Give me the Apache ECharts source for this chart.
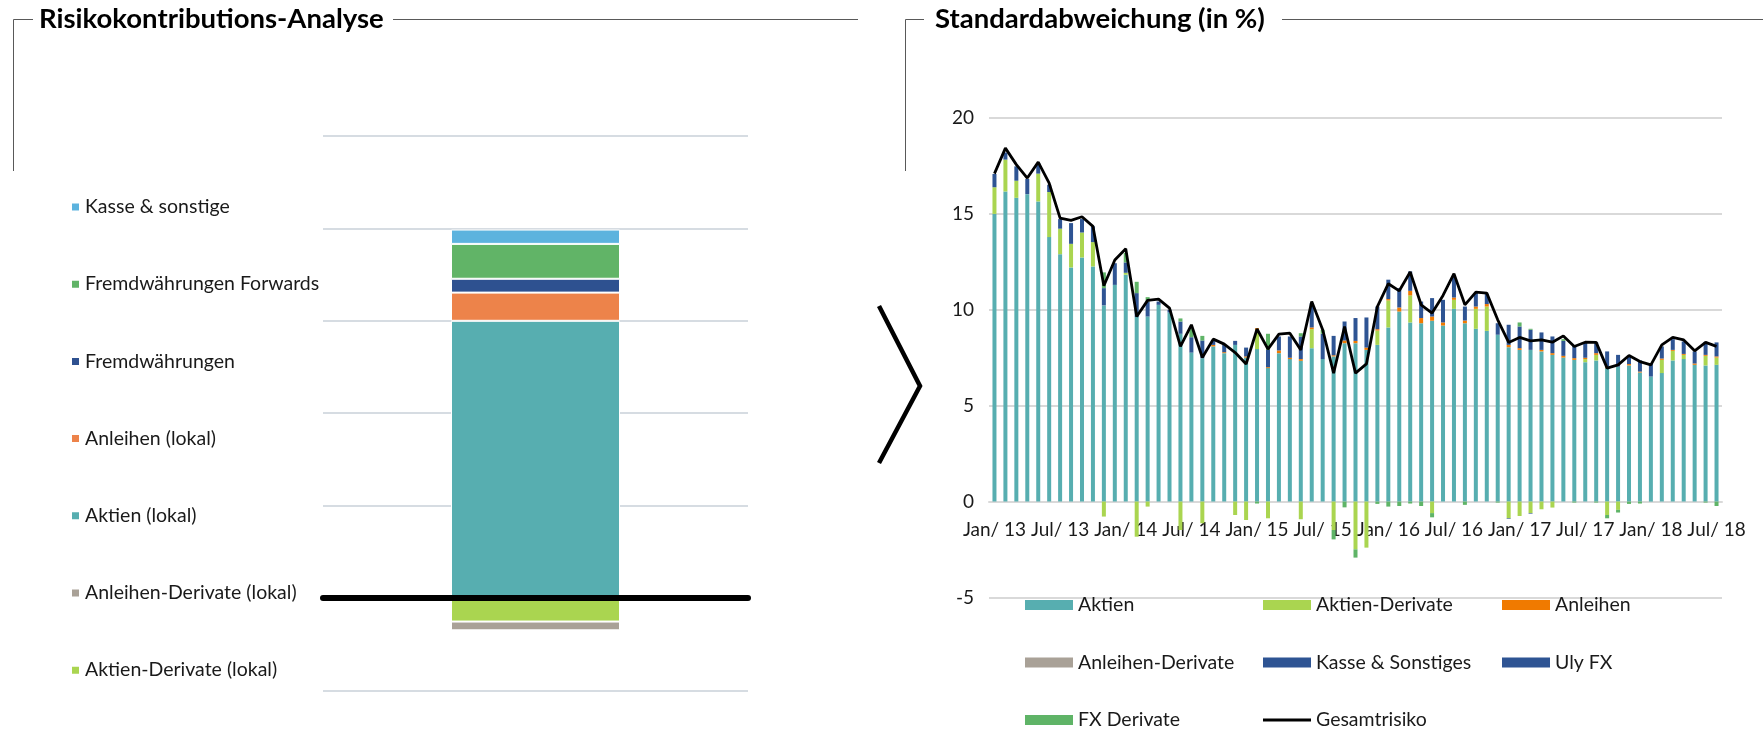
<!DOCTYPE html>
<html><head><meta charset="utf-8">
<script src="https://cdn.jsdelivr.net/npm/echarts@6/dist/echarts.min.js"></script>
<style>html,body{margin:0;padding:0;background:#fff}#c{width:1763px;height:731px}</style>
</head><body><div id="c"></div>
<script>
// ---------- Left chart: Risikokontributions-Analyse ----------
const riskCategories = ['Risiko'];
const aktienDerivateLokal = [-0.51];
const anleihenDerivateLokal = [-0.19];
const aktienLokal = [6.0];
const anleihenLokal = [0.61];
const fremdwaehrungen = [0.30];
const fremdwaehrungenForwards = [0.755];
const kasseSonstige = [0.31];
const leftLegendOrder = ['Kasse & sonstige','Fremdwährungen Forwards','Fremdwährungen','Anleihen (lokal)','Aktien (lokal)','Anleihen-Derivate (lokal)','Aktien-Derivate (lokal)'];

// ---------- Right chart: Standardabweichung (in %) ----------
const months = [
'Jan/ 13','Feb/ 13','Mär/ 13','Apr/ 13','Mai/ 13','Jun/ 13','Jul/ 13','Aug/ 13','Sep/ 13','Okt/ 13','Nov/ 13','Dez/ 13',
'Jan/ 14','Feb/ 14','Mär/ 14','Apr/ 14','Mai/ 14','Jun/ 14','Jul/ 14','Aug/ 14','Sep/ 14','Okt/ 14','Nov/ 14','Dez/ 14',
'Jan/ 15','Feb/ 15','Mär/ 15','Apr/ 15','Mai/ 15','Jun/ 15','Jul/ 15','Aug/ 15','Sep/ 15','Okt/ 15','Nov/ 15','Dez/ 15',
'Jan/ 16','Feb/ 16','Mär/ 16','Apr/ 16','Mai/ 16','Jun/ 16','Jul/ 16','Aug/ 16','Sep/ 16','Okt/ 16','Nov/ 16','Dez/ 16',
'Jan/ 17','Feb/ 17','Mär/ 17','Apr/ 17','Mai/ 17','Jun/ 17','Jul/ 17','Aug/ 17','Sep/ 17','Okt/ 17','Nov/ 17','Dez/ 17',
'Jan/ 18','Feb/ 18','Mär/ 18','Apr/ 18','Mai/ 18','Jun/ 18','Jul/ 18'];
const aktien = [15.0,16.17,15.84,16.03,15.65,13.79,12.9,12.21,12.73,12.26,
10.23,11.3,11.83,9.62,9.65,10.26,9.86,8.75,7.77,7.48,
8.09,7.74,8.17,7.51,7.95,6.96,7.74,7.43,7.34,8.0,
7.43,7.57,8.26,8.26,7.91,8.17,9.08,9.91,9.34,9.3,
9.43,9.18,10.05,9.3,9.01,8.9,8.7,8.05,7.91,7.91,
7.83,7.65,7.51,7.39,7.27,7.36,6.96,7.04,7.1,6.73,
6.52,6.7,7.36,7.43,7.13,7.1,7.13];
const aktienDerivate = [1.39,1.66,0.89,0,1.45,2.35,1.33,1.23,1.3,1.27,
-0.78,0,0.1,-1.83,-0.26,0,0,-1.48,0,-1.13,
0,0,-0.7,-0.96,1.01,-0.87,0,0,-0.92,0.99,
0,-1.48,0,-2.49,-2.4,0.75,1.41,0,1.41,0,
-0.6,0,0.47,0,1.04,1.27,0,-0.87,-0.75,-0.6,
-0.4,-0.31,0,0,0.16,0.29,-0.7,-0.43,0,0,
0,0.69,0.5,0.22,0,0.5,0.38];
const anleihen = [0,0,0,0,0,0,0,0,0,0,
0,0,0,0,0,0,0,0,0,0,
0.08,0.05,0,0.06,0.08,0.05,0.14,0.07,0.09,0.09,
0,0.06,0.14,0.12,0.12,0.07,0.07,0.21,0.24,0.27,
0.22,0.16,0.12,0.14,0.12,0.13,0,0.12,0.09,0,
0.08,0.09,0.09,0.09,0.07,0.09,0.08,0,0.07,0.05,
0,0.07,0.05,0.05,0.07,0.05,0.06];
const anleihenDerivate = [0,0,0,0,0,0,0,0,0,0,
0,0,0,0,0,0,0,0,0,0,
0,0,0,0,0,0,0,0,0,0,
0,0,0,0,0,0,0,0,0,0,
0,0,0,0,0,0,0,0,0,0,
0,0,0,0,0,0,0,0,0,0,
0,0,0,0,0,0,0];
const kasseSonstiges = [0,0,0,0,0,0,0,0,0,0,
0,0,0,0,0,0,0,0,0,0,
0,0,0,0,0,0,0,0,0,0,
0,0,0,0,0,0,0,0,0,0,
0,0,0,0,0,0,0,-0.03,0,-0.03,
0,0,0,0,0,0,0,0,0,0,
0,0,0,0,0,0,0];
const ulyFx = [0.69,0.37,0.75,0.79,0.55,0.38,0.5,1.08,0.7,0.82,
0.9,1.13,0.54,1.25,0.78,0.17,0.14,0.64,0.8,0.92,
0.2,0.38,0.21,0.46,0,0.9,0.73,1.11,1.18,1.27,
1.32,1.01,0.99,1.19,1.57,1.18,1.01,1.01,1.01,0.86,
0.96,1.18,1.1,0.73,0.7,0.53,0.6,1.05,1.13,1.05,
0.91,0.87,0.78,0.64,0.8,0.56,0.79,0.61,0.43,0.58,
0.7,0.63,0.56,0.65,0.63,0.68,0.73];
const fxDerivate = [0,0,0,0,0,0,0,0,0,0,
0.82,0,0.49,0.59,0.23,0,0,0.16,0.42,0.24,
0,0,0,0,-0.1,0.84,0,0,0.17,0,
0.21,-0.49,-0.3,-0.43,0,-0.12,-0.26,-0.23,-0.1,-0.23,
-0.22,0,0,-0.17,0,0,-0.05,0,0.21,0.05,
0,0,0.09,-0.05,0,-0.05,-0.17,-0.14,-0.12,-0.1,
0,0,0,0,0,-0.05,-0.23];
const gesamtrisiko = [17.1,18.43,17.57,16.87,17.7,16.6,14.78,14.66,14.85,14.35,
11.25,12.6,13.18,9.65,10.49,10.56,10.09,8.09,9.22,7.51,
8.47,8.21,7.77,7.17,9.0,7.95,8.73,8.78,7.91,10.43,
8.96,6.7,9.13,6.7,7.18,10.17,11.36,10.99,11.97,10.26,
9.83,10.75,11.88,10.26,10.92,10.87,9.48,8.3,8.56,8.38,
8.43,8.31,8.64,8.09,8.31,8.3,6.96,7.13,7.62,7.3,
7.13,8.17,8.56,8.43,7.86,8.3,8.09];

const FONT = 'Lato, "Noto Sans", sans-serif';
const TXT = '#1a1a1a';
const C = {
  teal:'#57AEB0', lime:'#AAD550', orangeL:'#ED834A', orange:'#F07A00', grey:'#A9A197',
  navy:'#2E5493', green:'#5FB467', lightBlue:'#5CB3DE'
};

function leftBar(name, data, color){
  return {name, type:'bar', xAxisIndex:0, yAxisIndex:0, stack:'L', data, barWidth:169,
    itemStyle:{color, borderColor:'#fff', borderWidth:1}, emphasis:{disabled:true}};
}
function rightBar(name, data, color){
  return {name, type:'bar', xAxisIndex:1, yAxisIndex:1, stack:'R', data, barWidth:4,
    itemStyle:{color}, emphasis:{disabled:true}};
}

const chart = echarts.init(document.getElementById('c'), null, {renderer:'canvas'});
const legendText = {fontFamily:FONT, fontSize:19.5, lineHeight:20, color:TXT};
const titleText = {fontFamily:FONT, fontWeight:'bold', fontSize:27.5, lineHeight:32, color:'#000'};
chart.setOption({
  backgroundColor:'#fff',
  animation:false,
  textStyle:{fontFamily:FONT},
  title:[
    {text:'Risikokontributions-Analyse', left:39, top:3, padding:0, textStyle:titleText},
    {text:'Standardabweichung (in %)', left:935, top:3, padding:0, textStyle:titleText}
  ],
  grid:[
    {left:323, right:1763-748, top:136, bottom:731-690.4},
    {left:989, right:41, top:118, bottom:133.5}
  ],
  xAxis:[
    {type:'category', gridIndex:0, data:riskCategories, z:10,
     axisLine:{onZero:true, lineStyle:{color:'#000', width:6}},
     axisTick:{show:false}, axisLabel:{show:false}},
    {type:'category', gridIndex:1, data:months, offset:-96,
     axisLine:{onZero:false, lineStyle:{color:'#D9D9D9', width:2}},
     axisTick:{show:false},
     axisLabel:{interval:5, margin:19, fontFamily:FONT, fontSize:19, color:TXT}}
  ],
  yAxis:[
    {type:'value', gridIndex:0, min:-2, max:10, interval:2,
     axisLabel:{show:false}, axisLine:{show:false}, axisTick:{show:false},
     splitLine:{lineStyle:{color:'#C8D0D8', width:1.5}}},
    {type:'value', gridIndex:1, min:-5, max:20, interval:5,
     axisLabel:{margin:15, fontFamily:FONT, fontSize:19, color:TXT},
     axisLine:{show:false}, axisTick:{show:false},
     splitLine:{lineStyle:{color:'#D9D9D9', width:2}}}
  ],
  legend:[
    {data:leftLegendOrder, orient:'vertical', left:70, top:197, padding:0,
     itemWidth:9, itemHeight:9, itemGap:57.2, icon:'rect', textStyle:legendText, selectedMode:false},
    {data:['Aktien','Anleihen-Derivate','FX Derivate'], orient:'vertical', left:1025, top:595, padding:0,
     itemWidth:48, itemHeight:10, itemGap:37.5, icon:'rect', textStyle:legendText, selectedMode:false},
    {data:['Aktien-Derivate','Kasse & Sonstiges',{name:'Gesamtrisiko', icon:'path://M0,0H48V3H0Z'}], orient:'vertical', left:1263, top:595, padding:0,
     itemWidth:48, itemHeight:10, itemGap:37.5, icon:'rect', textStyle:legendText, selectedMode:false},
    {data:['Anleihen','Uly FX'], orient:'vertical', left:1502, top:595, padding:0,
     itemWidth:48, itemHeight:10, itemGap:37.5, icon:'rect', textStyle:legendText, selectedMode:false}
  ],
  series:[
    leftBar('Aktien-Derivate (lokal)', aktienDerivateLokal, C.lime),
    leftBar('Anleihen-Derivate (lokal)', anleihenDerivateLokal, C.grey),
    leftBar('Aktien (lokal)', aktienLokal, C.teal),
    leftBar('Anleihen (lokal)', anleihenLokal, C.orangeL),
    leftBar('Fremdwährungen', fremdwaehrungen, '#2E5190'),
    leftBar('Fremdwährungen Forwards', fremdwaehrungenForwards, '#61B467'),
    leftBar('Kasse & sonstige', kasseSonstige, C.lightBlue),
    rightBar('Aktien', aktien, C.teal),
    rightBar('Aktien-Derivate', aktienDerivate, C.lime),
    rightBar('Anleihen', anleihen, C.orange),
    rightBar('Anleihen-Derivate', anleihenDerivate, C.grey),
    rightBar('Kasse & Sonstiges', kasseSonstiges, C.navy),
    rightBar('Uly FX', ulyFx, C.navy),
    rightBar('FX Derivate', fxDerivate, C.green),
    {name:'Gesamtrisiko', type:'line', xAxisIndex:1, yAxisIndex:1, data:gesamtrisiko,
     symbol:'none', z:5, lineStyle:{color:'#000', width:2.8}, itemStyle:{color:'#000'},
     emphasis:{disabled:true}}
  ],
  graphic:[
    {type:'polyline', shape:{points:[[13.5,171],[13.5,19.5],[33,19.5]]}, style:{stroke:'#595959', lineWidth:1, fill:null}, silent:true},
    {type:'line', shape:{x1:393, y1:19.5, x2:858, y2:19.5}, style:{stroke:'#595959', lineWidth:1}, silent:true},
    {type:'polyline', shape:{points:[[905.5,171],[905.5,19.5],[924,19.5]]}, style:{stroke:'#595959', lineWidth:1, fill:null}, silent:true},
    {type:'line', shape:{x1:1282, y1:19.5, x2:1763, y2:19.5}, style:{stroke:'#595959', lineWidth:1}, silent:true},
    {type:'polyline', shape:{points:[[879,306],[920,386],[879,463]]}, style:{stroke:'#000', lineWidth:4.5, fill:null}, silent:true}
  ]
});
</script></body></html>
